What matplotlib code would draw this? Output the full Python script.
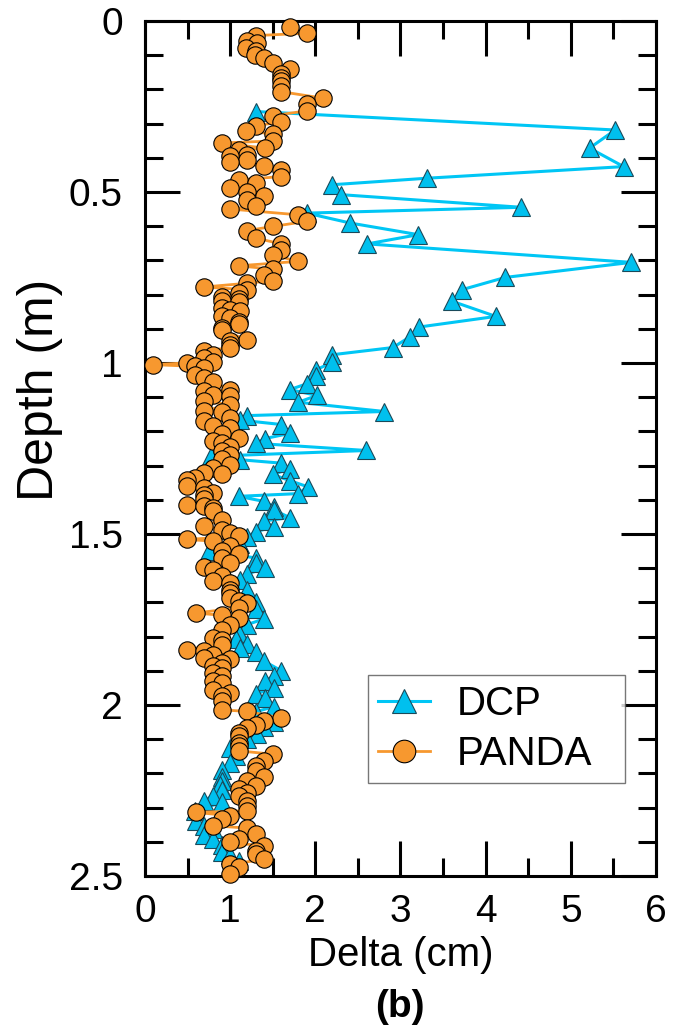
import matplotlib
matplotlib.use("Agg")
import matplotlib.pyplot as plt
from matplotlib.ticker import MultipleLocator, FormatStrFormatter

plt.rcParams['font.family'] = ['Liberation Sans', 'DejaVu Sans']

# DCP: delta (cm) vs depth (m)
dcp_depth = [0.265, 0.319, 0.372, 0.426, 0.460, 0.479, 0.508, 0.545, 0.562, 0.591,
             0.625, 0.652, 0.706, 0.750, 0.786, 0.820, 0.864, 0.895, 0.924, 0.955,
             0.976, 0.998, 1.020, 1.039, 1.061, 1.078, 1.095, 1.115, 1.142, 1.154,
             1.167, 1.180, 1.206, 1.221, 1.235, 1.256, 1.273, 1.283, 1.293, 1.310,
             1.326, 1.344, 1.362, 1.382, 1.390, 1.405, 1.420, 1.430, 1.452, 1.462,
             1.480, 1.493, 1.508, 1.530, 1.551, 1.570, 1.585, 1.600, 1.617, 1.635,
             1.665, 1.700, 1.720, 1.748, 1.765, 1.790, 1.808, 1.822, 1.832, 1.845,
             1.872, 1.900, 1.915, 1.930, 1.950, 1.968, 1.980, 2.005, 2.020, 2.050,
             2.065, 2.085, 2.100, 2.112, 2.125, 2.150, 2.170, 2.190, 2.210, 2.222,
             2.235, 2.250, 2.265, 2.280, 2.285, 2.310, 2.340, 2.355, 2.362, 2.380,
             2.392, 2.410, 2.430, 2.440, 2.455]
dcp_delta = [1.30, 5.52, 5.22, 5.62, 3.31, 2.20, 2.30, 4.42, 1.90, 2.41,
             3.21, 2.61, 5.71, 4.23, 3.72, 3.61, 4.12, 3.22, 3.11, 2.91,
             2.20, 2.20, 2.01, 2.01, 1.90, 1.70, 2.02, 1.80, 2.81, 1.20,
             1.11, 1.60, 1.70, 1.41, 1.30, 2.60, 0.77, 1.12, 1.60, 1.70,
             1.50, 1.70, 1.91, 1.80, 1.10, 1.40, 1.51, 1.51, 1.70, 1.40,
             1.51, 1.30, 1.20, 1.11, 0.75, 1.30, 1.30, 1.41, 1.20, 1.11,
             1.20, 1.30, 1.30, 1.40, 1.20, 1.10, 1.07, 1.20, 1.11, 1.30,
             1.40, 1.60, 1.51, 1.41, 1.51, 1.30, 1.41, 1.51, 1.30, 1.51,
             1.40, 1.31, 1.20, 1.10, 1.00, 1.07, 1.00, 0.90, 0.90, 0.90,
             0.88, 0.90, 0.80, 0.69, 0.90, 0.59, 0.60, 0.69, 0.80, 0.69,
             0.80, 0.90, 0.90, 1.00, 1.10]

# PANDA: delta (cm) vs depth (m)
panda_depth = [0.018, 0.036, 0.043, 0.058, 0.065, 0.080, 0.088, 0.099, 0.109, 0.124,
               0.140, 0.156, 0.167, 0.177, 0.189, 0.207, 0.226, 0.243, 0.263, 0.277,
               0.296, 0.306, 0.321, 0.331, 0.351, 0.357, 0.372, 0.377, 0.392, 0.396,
               0.406, 0.414, 0.424, 0.435, 0.455, 0.465, 0.474, 0.489, 0.499, 0.513,
               0.523, 0.541, 0.550, 0.567, 0.586, 0.601, 0.613, 0.635, 0.652, 0.669,
               0.684, 0.703, 0.716, 0.726, 0.742, 0.759, 0.767, 0.778, 0.786, 0.796,
               0.807, 0.812, 0.820, 0.823, 0.840, 0.845, 0.848, 0.862, 0.870, 0.879,
               0.887, 0.897, 0.905, 0.932, 0.937, 0.947, 0.955, 0.966, 0.976, 0.985,
               0.998, 1.000, 1.005, 1.010, 1.014, 1.034, 1.043, 1.057, 1.078, 1.083,
               1.093, 1.098, 1.112, 1.122, 1.140, 1.142, 1.161, 1.170, 1.185, 1.190,
               1.208, 1.218, 1.228, 1.235, 1.245, 1.258, 1.268, 1.282, 1.297, 1.307,
               1.322, 1.326, 1.336, 1.341, 1.360, 1.365, 1.380, 1.385, 1.399, 1.414,
               1.419, 1.424, 1.434, 1.458, 1.477, 1.487, 1.497, 1.507, 1.516, 1.521,
               1.536, 1.550, 1.560, 1.570, 1.585, 1.597, 1.604, 1.624, 1.638, 1.643,
               1.663, 1.674, 1.687, 1.697, 1.702, 1.716, 1.731, 1.738, 1.746, 1.765,
               1.780, 1.805, 1.809, 1.824, 1.838, 1.843, 1.853, 1.863, 1.867, 1.877,
               1.887, 1.892, 1.906, 1.916, 1.930, 1.936, 1.955, 1.965, 1.975, 1.989,
               2.014, 2.019, 2.038, 2.048, 2.059, 2.067, 2.082, 2.092, 2.110, 2.120,
               2.134, 2.144, 2.164, 2.178, 2.192, 2.211, 2.221, 2.236, 2.246, 2.256,
               2.265, 2.280, 2.295, 2.309, 2.314, 2.324, 2.334, 2.353, 2.360, 2.378,
               2.392, 2.402, 2.412, 2.427, 2.437, 2.451, 2.466, 2.475, 2.495]
panda_delta = [1.70, 1.90, 1.30, 1.20, 1.31, 1.19, 1.30, 1.29, 1.40, 1.50,
               1.70, 1.60, 1.60, 1.60, 1.60, 1.60, 2.09, 1.90, 1.90, 1.50,
               1.60, 1.30, 1.19, 1.50, 1.50, 0.90, 1.41, 1.10, 1.20, 1.00,
               1.20, 1.00, 1.40, 1.60, 1.60, 1.10, 1.30, 1.00, 1.20, 1.40,
               1.20, 1.30, 1.00, 1.80, 1.90, 1.50, 1.20, 1.30, 1.60, 1.60,
               1.50, 1.80, 1.10, 1.50, 1.40, 1.50, 1.20, 0.69, 1.20, 1.10,
               0.90, 1.10, 0.90, 1.10, 0.90, 1.00, 1.11, 0.90, 1.00, 1.10,
               1.10, 0.90, 0.90, 1.20, 1.00, 1.00, 1.00, 0.69, 0.80, 0.69,
               0.80, 0.49, 0.09, 0.59, 0.69, 0.59, 0.69, 0.80, 1.00, 0.69,
               0.80, 1.00, 0.69, 1.00, 0.69, 0.90, 1.00, 0.69, 0.80, 1.00,
               0.90, 1.10, 0.80, 0.90, 1.00, 0.90, 1.00, 0.90, 1.00, 0.80,
               0.69, 0.90, 0.59, 0.49, 0.49, 0.69, 0.80, 0.69, 0.69, 0.49,
               0.69, 0.80, 0.80, 0.90, 0.69, 0.90, 1.00, 1.10, 0.49, 0.80,
               1.00, 0.90, 1.10, 0.90, 1.00, 0.69, 0.80, 0.90, 0.80, 1.00,
               1.00, 1.00, 1.00, 1.10, 1.20, 1.10, 0.60, 0.90, 1.10, 1.00,
               0.90, 0.80, 0.90, 0.90, 0.49, 0.69, 0.80, 0.69, 1.00, 0.90,
               0.80, 0.90, 0.80, 0.90, 0.80, 0.90, 0.80, 1.00, 0.90, 0.90,
               0.90, 1.20, 1.60, 1.40, 1.30, 1.20, 1.10, 1.10, 1.10, 1.10,
               1.10, 1.50, 1.40, 1.30, 1.30, 1.40, 1.20, 1.30, 1.10, 1.20,
               1.10, 1.20, 1.20, 1.20, 0.60, 1.00, 0.90, 0.80, 1.20, 1.30,
               1.10, 1.00, 1.40, 1.30, 1.30, 1.40, 1.00, 1.10, 1.00]

x_ticks = [0, 1, 2, 3, 4, 5, 6]
y_ticks = [0, 0.5, 1, 1.5, 2, 2.5]

fig = plt.figure(figsize=(6.75, 10.34), dpi=100)
ax = fig.add_axes([0.2148, 0.1528, 0.757, 0.827])

ax.plot(dcp_delta, dcp_depth, color='#00C6F5', lw=2.2, marker='^', ms=13,
        mfc='#00C0EE', mec='#1a4a5a', mew=0.8, label='DCP', clip_on=False, zorder=2)
ax.plot(panda_delta, panda_depth, color='#F7982F', lw=2.0, marker='o', ms=12.5,
        mfc='#F7982F', mec='black', mew=0.8, label='PANDA', clip_on=False, zorder=3)

ax.set_xlim(0, 6)
ax.set_ylim(2.5, 0)
ax.set_xticks(x_ticks)
ax.set_yticks(y_ticks)
ax.xaxis.set_minor_locator(MultipleLocator(0.5))
ax.yaxis.set_minor_locator(MultipleLocator(0.1))
ax.xaxis.set_major_formatter(FormatStrFormatter('%g'))
ax.yaxis.set_major_formatter(FormatStrFormatter('%g'))

ax.tick_params(which='both', direction='in', top=True, right=True, width=2.2,
               labelsize=28)
ax.tick_params(axis='x', which='major', length=25, pad=13)
ax.tick_params(axis='y', which='major', length=25, pad=16)
ax.tick_params(which='minor', length=13)
for s in ax.spines.values():
    s.set_linewidth(2.2)

ax.set_xlabel('Delta (cm)', fontsize=29, labelpad=4)
ax.set_ylabel('Depth (m)', fontsize=36)
ax.yaxis.set_label_coords(-0.16, 0.568)

leg = ax.legend(loc='lower left', bbox_to_anchor=(0.436, 0.109, 0.503, 0.126),
                mode='expand', borderaxespad=0, fontsize=29, frameon=True,
                fancybox=False, handlelength=1.3, handletextpad=0.65,
                borderpad=0.25, labelspacing=0.3, markerscale=1.3)
leg.get_frame().set_edgecolor('#555555')
leg.get_frame().set_linewidth(1.0)

fig.text(0.593, 0.026, '(b)', fontsize=28, fontweight='bold', ha='center', va='center')

fig.savefig('out.png', dpi=100)
